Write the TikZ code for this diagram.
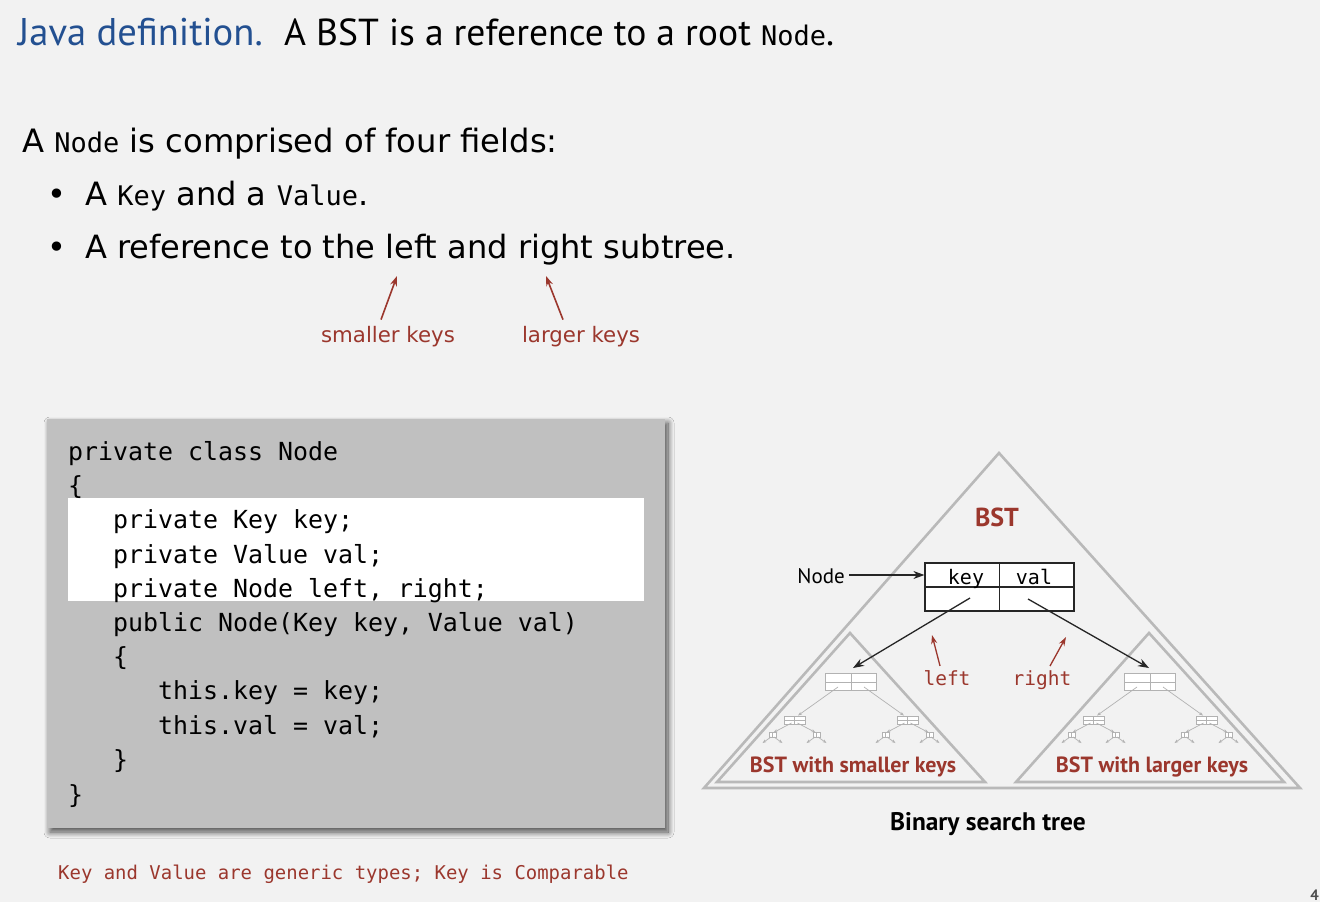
\documentclass[tikz,border=0pt]{standalone}
\usepackage{fontspec}
\setmainfont{DejaVu Sans}
\setmonofont{DejaVu Sans Mono}
\newfontfamily\headfont{PT Sans}
\usetikzlibrary{arrows.meta,shadows.blur,calc}

\definecolor{pagebg}{RGB}{242,242,242}
\definecolor{accent}{RGB}{155,55,45}
\definecolor{titleblue}{RGB}{35,80,145}
\definecolor{codegray}{RGB}{192,192,192}
\definecolor{treegray}{RGB}{185,185,185}
\definecolor{minigray}{RGB}{178,178,178}

\newcommand\fs[1]{\fontsize{#1}{#1}\selectfont}

\tikzset{
  txt/.style={inner sep=0pt, anchor=base west},
  ctxt/.style={inner sep=0pt, anchor=base},
  codeline/.style={txt, font=\ttfamily\fs{24.9}},
  redarrow/.style={draw=accent, line width=1.6pt, -{Stealth[length=10pt,width=7pt]}},
  ptr/.style={draw=black!85, line width=1.3pt, -{Stealth[length=11pt,width=8pt]}},
  tri/.style={draw=treegray, line width=2.6pt, line join=miter},
  mini/.style={draw=minigray, fill=white, line width=0.9pt, inner sep=0pt, rectangle},
  minilink/.style={draw=minigray, line width=0.7pt, -{Stealth[length=4pt,width=3pt]}},
  % a faded miniature of a binary search tree: root, children, grandchildren
  minibst/.pic={
    \node[mini, minimum width=51pt, minimum height=17pt] (r) at (0,0) {};
    \draw[minigray, line width=0.9pt] (r.north) -- (r.south) (r.west) -- (r.east);
    \foreach \s in {-1,1} {
      \pgfmathsetmacro\cx{\s*56.5}
      \draw[minilink] ({\s*13},5) -- ({\s*53},33.5);
      \draw[mini, line width=0.7pt] ({\cx-10.5},34) rectangle ({\cx+10.5},42);
      \draw[minigray, line width=0.6pt] (\cx,34) -- (\cx,42) ({\cx-10.5},38) -- ({\cx+10.5},38);
      \foreach \t in {-1,1} {
        \pgfmathsetmacro\gx{\cx+\t*22}
        \draw[minilink] ({\cx+\t*3},41) -- ({\gx-\t*1},50.5);
        \draw[mini, line width=0.5pt] ({\gx-3.5},50.5) rectangle ({\gx+3.5},55.5);
        \draw[minigray, line width=0.4pt] (\gx,50.5) -- (\gx,55.5);
        \foreach \u in {-1,1} {
          \draw[minilink] ({\gx+\u*1.5},55) -- ({\gx+\u*10},61);
        }
      }
    }
  }
}

\begin{document}
\begin{tikzpicture}[x=1pt,y=-1pt]
\useasboundingbox[fill=pagebg] (0,0) rectangle (1320,902);

% heading
\node[txt, font=\headfont\fs{38.6}, text=titleblue] (jdef) at (18,45) {Java definition.};
\node[txt, font=\headfont\fs{37.6}] (bstdef) at (284,45) {A BST is a reference to a root {\ttfamily\fs{27}Node}.};

% the four fields
\node[txt, font=\fs{32.2}] (fields) at (22,152) {A {\ttfamily\fs{27}Node} is comprised of four fields:};
\node[txt, font=\fs{32}] (b1) at (47,205) {•};
\node[txt, font=\fs{32.1}] (kv) at (85,205) {A {\ttfamily\fs{27}Key} and a {\ttfamily\fs{27}Value}.};
\node[txt, font=\fs{32}] (b2) at (47,258) {•};
\node[txt, font=\fs{32.05}] (refs) at (85,258) {A reference to the left and right subtree.};

\node[ctxt, font=\fs{21.3}, text=accent] (smk) at (388,342) {smaller keys};
\node[ctxt, font=\fs{21.3}, text=accent] (lgk) at (581,342) {larger keys};
\coordinate (smtip) at (397,276);
\coordinate (lgtip) at (546,276);
\draw[redarrow] ($(smk.north)+(-7,-6)$) -- (smtip);
\draw[redarrow] ($(lgk.north)+(-18,-6)$) -- (lgtip);

% the Node class
\node[rectangle, fill=codegray, minimum width=618pt, minimum height=409pt, inner sep=0pt,
      blur shadow={shadow xshift=3pt, shadow yshift=-4pt, shadow blur steps=12,
                   shadow blur radius=6pt, shadow opacity=70}]
      (code) at (356,623.5) {};
\fill[white] (68,498) rectangle (644,601);
\node[codeline] (c1)  at (68,460)  {private class Node};
\node[codeline] (c2)  at (68,494)  {\{};
\node[codeline] (c3)  at (113,528) {private Key key;};
\node[codeline] (c4)  at (113,563) {private Value val;};
\node[codeline] (c5)  at (113,597) {private Node left, right;};
\node[codeline] (c6)  at (113,631) {public Node(Key key, Value val)};
\node[codeline] (c7)  at (113,665) {\{};
\node[codeline] (c8)  at (158,699) {this.key = key;};
\node[codeline] (c9)  at (158,734) {this.val = val;};
\node[codeline] (c10) at (113,768) {\}};
\node[codeline] (c11) at (68,803)  {\}};

\node[txt, font=\ttfamily\fs{18.95}, text=accent] (generic) at (58,879)
  {Key and Value are generic types; Key is Comparable};

% binary search tree: whole tree and its two subtrees
\draw[tri] (999,453) -- (1300,788) -- (704,788) -- cycle;
\draw[tri] (850,633) -- (985,782) -- (717,782) -- cycle;
\draw[tri] (1149,633) -- (1284,782) -- (1016,782) -- cycle;

\node[ctxt, font=\headfont\bfseries\fs{26}, text=accent] (bst) at (997,526) {BST};

\node[draw=black!85, fill=white, line width=1.2pt, minimum width=149pt, minimum height=48pt, inner sep=0pt]
  (root) at (999.5,587) {};
\draw[black!85, line width=1.2pt] (root.north) -- (root.south) (root.west) -- (root.east);
\node[ctxt, font=\ttfamily\fs{20}] (keyf) at (966,584) {key};
\node[ctxt, font=\ttfamily\fs{20}] (valf) at (1034,584) {val};

\node[anchor=base east, inner sep=0pt, font=\headfont\fs{21}] (nodelbl) at (845,583) {Node};
\coordinate (nodefrom) at ($(nodelbl.base east)+(4,-8)$);
\coordinate (nodeto) at ($(root.north west)!0.5!(root.west)$);
\draw[ptr, line width=1.1pt] (nodefrom) -- (nodefrom -| nodeto);

\pic (lt) at (851,682) {minibst};
\pic (rt) at (1150,682) {minibst};

\coordinate (lptr) at (970,598);
\coordinate (rptr) at (1028,599);
\coordinate (lend) at (853,668);
\coordinate (rend) at (1149,668);
\draw[ptr] (lptr) -- (lend);
\draw[ptr] (rptr) -- (rend);

\node[ctxt, font=\ttfamily\fs{19.5}, text=accent] (leftlbl) at (947,685) {left};
\node[ctxt, font=\ttfamily\fs{19.5}, text=accent] (rightlbl) at (1042,685) {right};
\coordinate (ltip) at (932,635);
\coordinate (rtip) at (1066,637);
\draw[redarrow, line width=1.3pt, -{Stealth[length=9pt,width=6pt]}] ($(leftlbl.north)+(-7,-4)$) -- (ltip);
\draw[redarrow, line width=1.3pt, -{Stealth[length=9pt,width=6pt]}] ($(rightlbl.north)+(8,-4)$) -- (rtip);

\node[ctxt, font=\headfont\bfseries\fs{22}, text=accent] (lsub) at (853,772) {BST with smaller keys};
\node[ctxt, font=\headfont\bfseries\fs{22}, text=accent] (rsub) at (1152,772) {BST with larger keys};

\node[ctxt, font=\headfont\bfseries\fs{25.4}] (caption) at (988,830) {Binary search tree};

\node[anchor=base east, inner sep=0pt, font=\headfont\bfseries\fs{15}, text=black!70] (pageno) at (1319,900) {4};
\end{tikzpicture}
\end{document}
